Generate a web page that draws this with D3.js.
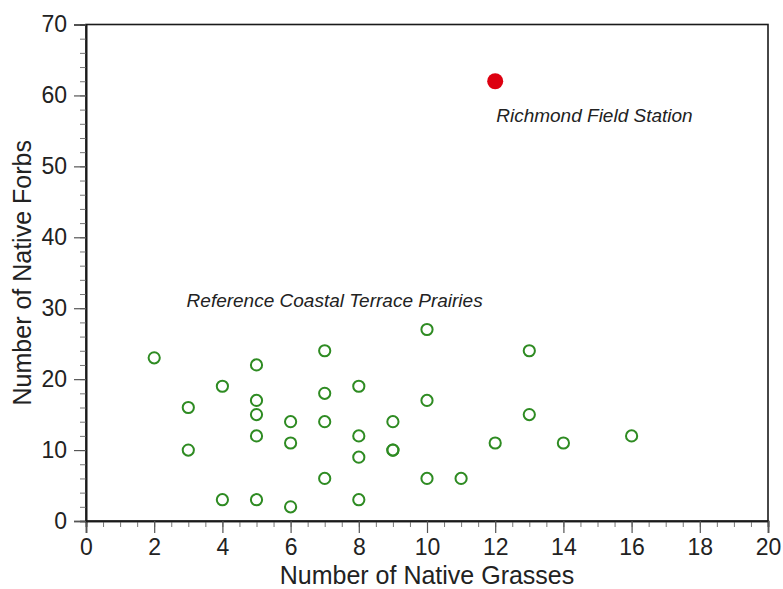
<!DOCTYPE html>
<html>
<head>
<meta charset="utf-8">
<script src="https://cdn.jsdelivr.net/npm/d3@7"></script>
<style>
  body { margin: 0; background: #fff; }
  svg { display: block; font-family: "Liberation Sans", Arial, Helvetica, sans-serif; }
</style>
</head>
<body>
<div id="chart"></div>
<script>
// Native grasses (x) vs native forbs (y) per reference prairie
const prairieGrasses = [2, 3, 3, 4, 4, 5, 5, 5, 5, 5, 6, 6, 6, 7, 7, 7, 7, 8, 8, 8, 8, 9, 9, 9, 10, 10, 10, 11, 12, 13, 13, 14, 16];
const prairieForbs   = [23, 16, 10, 19, 3, 22, 17, 15, 12, 3, 14, 11, 2, 24, 18, 14, 6, 19, 12, 9, 3, 14, 10, 10, 27, 17, 6, 6, 11, 24, 15, 11, 12];

// Richmond Field Station
const richmondGrasses = [12];
const richmondForbs = [62];

const xTicks = [0, 2, 4, 6, 8, 10, 12, 14, 16, 18, 20];
const yTicks = [0, 10, 20, 30, 40, 50, 60, 70];

const labels = [
  { text: 'Richmond Field Station', x: 12.03, y: 56.2 },
  { text: 'Reference Coastal Terrace Prairies', x: 2.95, y: 30.2 }
];

const w = 783;
const h = 589;
const margin = { top: 24.5, right: 15, bottom: 68, left: 86 };

const xScale = d3.scaleLinear()
  .domain([0, 20])
  .range([margin.left, w - margin.right]);

const yScale = d3.scaleLinear()
  .domain([0, 70])
  .range([h - margin.bottom, margin.top]);

const svg = d3.select('#chart')
  .append('svg')
  .attr('width', w)
  .attr('height', h);

// frame (top and right)
svg.append('rect')
  .attr('x', margin.left)
  .attr('y', margin.top)
  .attr('width', w - margin.left - margin.right)
  .attr('height', h - margin.top - margin.bottom)
  .attr('fill', 'none')
  .attr('stroke', '#1a1a1a')
  .attr('stroke-width', 1.6);

// minor ticks
const xMinor = d3.axisBottom(xScale)
  .tickValues(d3.range(0, 20.01, 0.5))
  .tickSize(6)
  .tickFormat('');

const yMinor = d3.axisLeft(yScale)
  .tickValues(d3.range(0, 70.01, 2))
  .tickSize(6)
  .tickFormat('');

svg.append('g')
  .classed('minor', true)
  .attr('transform', `translate(0, ${h - margin.bottom})`)
  .call(xMinor);

svg.append('g')
  .classed('minor', true)
  .attr('transform', `translate(${margin.left}, 0)`)
  .call(yMinor);

// major axes
const xAxis = d3.axisBottom(xScale)
  .tickValues(xTicks)
  .tickSize(12)
  .tickPadding(6);

const yAxis = d3.axisLeft(yScale)
  .tickValues(yTicks)
  .tickSize(12)
  .tickPadding(7);

svg.append('g')
  .classed('x-axis', true)
  .attr('transform', `translate(0, ${h - margin.bottom})`)
  .call(xAxis);

svg.append('g')
  .classed('y-axis', true)
  .attr('transform', `translate(${margin.left}, 0)`)
  .call(yAxis);

svg.selectAll('.domain')
  .attr('stroke', '#1a1a1a')
  .attr('stroke-width', 1.6);

svg.selectAll('.tick line')
  .attr('stroke', '#555')
  .attr('stroke-width', 1.2);

svg.selectAll('.minor .tick line')
  .attr('stroke', '#777')
  .attr('stroke-width', 1);

svg.selectAll('.tick text')
  .attr('fill', '#222')
  .style('font-size', '23px');

// axis titles
svg.append('text')
  .attr('x', xScale(10))
  .attr('y', 584)
  .attr('text-anchor', 'middle')
  .attr('fill', '#222')
  .style('font-size', '25px')
  .text('Number of Native Grasses');

svg.append('text')
  .attr('transform', `translate(31, ${yScale(35)}) rotate(-90)`)
  .attr('text-anchor', 'middle')
  .attr('fill', '#222')
  .style('font-size', '25px')
  .text('Number of Native Forbs');

// reference prairies
svg.append('g')
  .selectAll('circle')
  .data(prairieGrasses)
  .join('circle')
  .attr('cx', d => xScale(d))
  .attr('cy', (d, i) => yScale(prairieForbs[i]))
  .attr('r', 5.6)
  .attr('fill', 'none')
  .attr('stroke', '#2e8b22')
  .attr('stroke-width', 2);

// Richmond
svg.append('g')
  .selectAll('circle')
  .data(richmondGrasses)
  .join('circle')
  .attr('cx', d => xScale(d))
  .attr('cy', (d, i) => yScale(richmondForbs[i]))
  .attr('r', 8)
  .attr('fill', '#dd0010');

// annotations
svg.append('g')
  .selectAll('text')
  .data(labels)
  .join('text')
  .attr('x', d => xScale(d.x))
  .attr('y', d => yScale(d.y))
  .attr('fill', '#222')
  .style('font-size', '19px')
  .style('font-style', 'italic')
  .text(d => d.text);
</script>
</body>
</html>
